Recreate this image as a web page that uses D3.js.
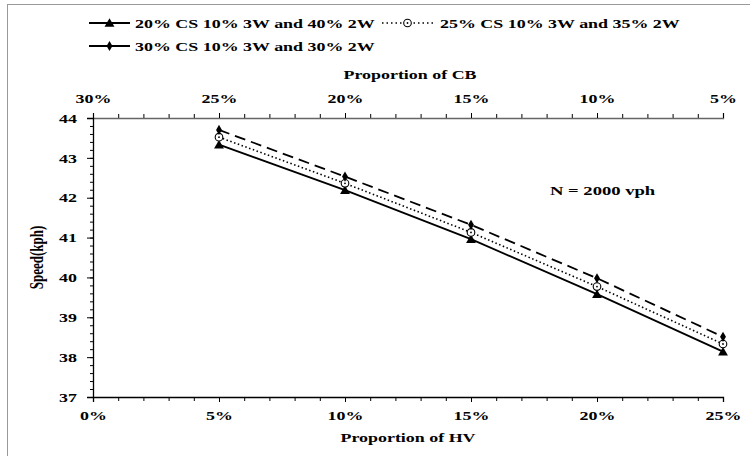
<!DOCTYPE html>
<html>
<head>
<meta charset="utf-8">
<script src="https://cdn.jsdelivr.net/npm/d3@7"></script>
<style>
  body { margin: 0; background: #fff; }
</style>
</head>
<body>
<div id="chart"></div>
<script>
// proportion of HV (bottom axis), proportion of CB is 30% - HV (top axis)
var hvShare = [5, 10, 15, 20, 25];
var speedCS20 = [43.33, 42.19, 40.96, 39.58, 38.14];
var speedCS25 = [43.52, 42.36, 41.13, 39.77, 38.33];
var speedCS30 = [43.70, 42.53, 41.32, 39.98, 38.51];
var seriesNames = ["20% CS 10% 3W and 40% 2W", "25% CS 10% 3W and 35% 2W", "30% CS 10% 3W and 30% 2W"];
var hvTicks = [0, 5, 10, 15, 20, 25];
var cbTicks = [30, 25, 20, 15, 10, 5];
var speedTicks = [37, 38, 39, 40, 41, 42, 43, 44];

var width = 750, height = 456;
var margin = { left: 93, right: 27, top: 118, bottom: 59 };
var FONT = "'Liberation Serif', 'Times New Roman', Times, serif";
var SX = 1.38; // the original picture is stretched sideways

var svg = d3.select("#chart").append("svg")
  .attr("width", width)
  .attr("height", height)
  .attr("font-family", FONT)
  .attr("font-weight", "bold");

// outer frame
svg.append("rect")
  .attr("x", 7.5).attr("y", 4.5)
  .attr("width", 760).attr("height", 470)
  .attr("fill", "none")
  .attr("stroke", "#999")
  .attr("stroke-width", 1);

var x = d3.scaleLinear().domain([0, 25]).range([margin.left, width - margin.right]);
var xTop = d3.scaleLinear().domain([30, 5]).range([margin.left, width - margin.right]);
var y = d3.scaleLinear().domain([37, 44]).range([height - margin.bottom, margin.top]);

var pct = function (d) { return d + "%"; };

// minor ticks first
svg.append("g")
  .attr("transform", "translate(0," + y(37) + ")")
  .call(d3.axisBottom(x).tickValues(d3.range(0, 26, 1)).tickSize(4).tickFormat(""))
  .call(g => g.select(".domain").remove());
svg.append("g")
  .attr("transform", "translate(0," + y(44) + ")")
  .call(d3.axisTop(xTop).tickValues(d3.range(5, 31, 1)).tickSize(4).tickFormat(""))
  .call(g => g.select(".domain").remove());
svg.append("g")
  .attr("transform", "translate(" + x(0) + ",0)")
  .call(d3.axisLeft(y).tickValues(d3.range(37, 44.01, 0.2)).tickSize(3).tickFormat(""))
  .call(g => g.select(".domain").remove());

// major axes
var xAxis = svg.append("g")
  .attr("transform", "translate(0," + y(37) + ")")
  .call(d3.axisBottom(x).tickValues(hvTicks).tickSize(5).tickPadding(9).tickFormat(pct));
var xTopAxis = svg.append("g")
  .attr("transform", "translate(0," + y(44) + ")")
  .call(d3.axisTop(xTop).tickValues(cbTicks).tickSize(5).tickPadding(10).tickFormat(pct));
var yAxis = svg.append("g")
  .attr("transform", "translate(" + x(0) + ",0)")
  .call(d3.axisLeft(y).tickValues(speedTicks).tickSize(6).tickPadding(10).tickFormat(d3.format("d")));

svg.selectAll("g").attr("font-family", null).attr("font-size", null);
[xAxis, xTopAxis, yAxis].forEach(function (g) {
  g.selectAll("text")
    .attr("font-size", 13)
    .attr("fill", "#000")
    .attr("x", function () { return (+d3.select(this).attr("x") || 0) / SX; })
    .attr("transform", "scale(" + SX + ",1)");
  g.select(".domain").attr("stroke", "#000").attr("stroke-width", 1.3);
});
svg.selectAll("g.tick line").attr("stroke", "#000");
xTopAxis.select(".domain").attr("stroke", "#666");

// axis titles
svg.append("text")
  .attr("transform", "translate(408,442) scale(" + SX + ",1)")
  .attr("text-anchor", "middle")
  .attr("font-size", 13)
  .text("Proportion of HV");
svg.append("text")
  .attr("transform", "translate(410,79) scale(" + SX + ",1)")
  .attr("text-anchor", "middle")
  .attr("font-size", 13)
  .text("Proportion of CB");
svg.append("text")
  .attr("transform", "translate(43," + ((y(37) + y(44)) / 2) + ") rotate(-90) scale(1," + SX + ")")
  .attr("text-anchor", "middle")
  .attr("font-size", 13)
  .text("Speed(kph)");

svg.append("text")
  .attr("transform", "translate(550,195) scale(" + SX + ",1)")
  .attr("font-size", 13.5)
  .text("N = 2000 vph");

// series
var series = [
  { name: seriesNames[0], values: speedCS20, dash: null, marker: "triangle" },
  { name: seriesNames[1], values: speedCS25, dash: "1.5,2.5", marker: "circle" },
  { name: seriesNames[2], values: speedCS30, dash: "11,6", marker: "diamond" }
];

var line = d3.line()
  .x(function (d, i) { return x(hvShare[i]); })
  .y(function (d) { return y(d); });

function drawMarker(g, type, cx, cy) {
  if (type === "triangle") {
    g.append("path")
      .attr("d", d3.symbol().type(d3.symbolTriangle).size(42)())
      .attr("transform", "translate(" + cx + "," + (cy + 1) + ")")
      .attr("fill", "#000");
  } else if (type === "circle") {
    g.append("circle").attr("cx", cx).attr("cy", cy).attr("r", 3.8)
      .attr("fill", "#fff").attr("stroke", "#000").attr("stroke-width", 1.1);
    g.append("circle").attr("cx", cx).attr("cy", cy).attr("r", 0.9).attr("fill", "#000");
  } else {
    g.append("path")
      .attr("d", d3.symbol().type(d3.symbolDiamond).size(30)())
      .attr("transform", "translate(" + cx + "," + cy + ")")
      .attr("fill", "#000");
  }
}

series.forEach(function (s) {
  svg.append("path")
    .datum(s.values)
    .attr("fill", "none")
    .attr("stroke", "#000")
    .attr("stroke-width", s.marker === "circle" ? 1.6 : 1.8)
    .attr("stroke-dasharray", s.dash)
    .attr("d", line);
  var mg = svg.append("g");
  s.values.forEach(function (v, i) {
    drawMarker(mg, s.marker, x(hvShare[i]), y(v));
  });
});

// legend
var legendPos = [
  { x: 89, y: 23, len: 41, tx: 135 },
  { x: 382, y: 23, len: 51, tx: 440 },
  { x: 89, y: 46, len: 41, tx: 135 }
];
series.forEach(function (s, i) {
  var p = legendPos[i];
  var lg = svg.append("g");
  lg.append("line")
    .attr("x1", p.x).attr("x2", p.x + p.len)
    .attr("y1", p.y).attr("y2", p.y)
    .attr("stroke", "#000")
    .attr("stroke-width", s.marker === "circle" ? 1.4 : 1.8)
    .attr("stroke-dasharray", s.marker === "circle" ? "1.5,3" : null);
  drawMarker(lg, s.marker, p.x + p.len / 2, p.y);
  lg.append("text")
    .attr("transform", "translate(" + p.tx + "," + (p.y + 5) + ") scale(" + SX + ",1)")
    .attr("font-size", 13)
    .text(s.name);
});
</script>
</body>
</html>
